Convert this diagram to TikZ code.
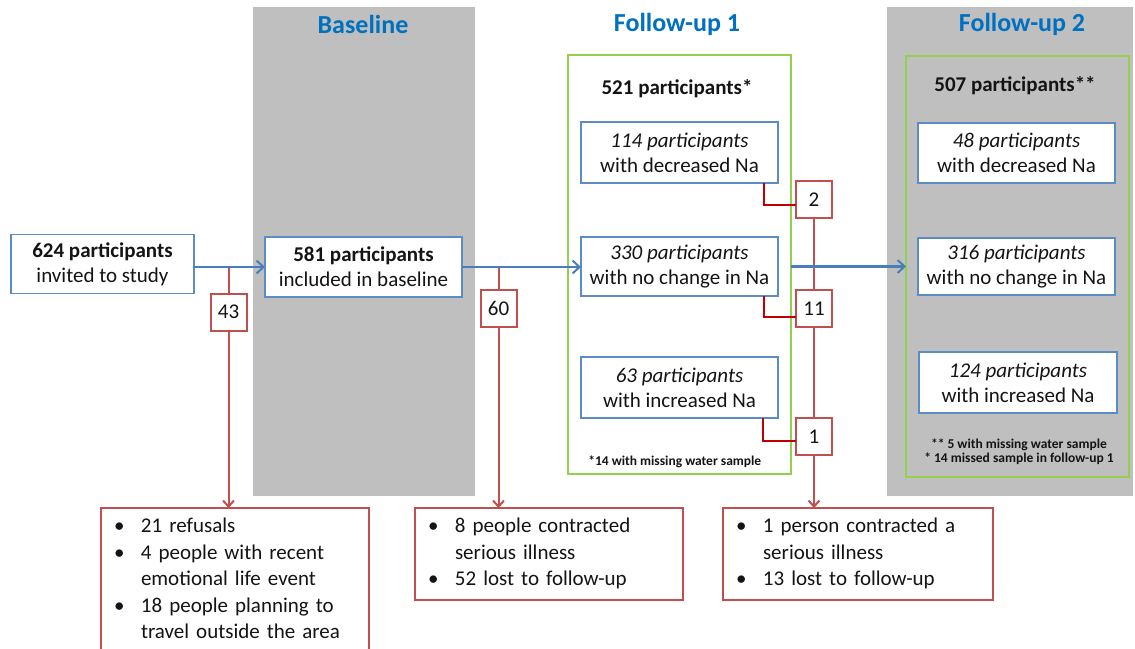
\documentclass[tikz,border=0pt]{standalone}
\usepackage{fontspec}
\setmainfont{Carlito}
\usetikzlibrary{arrows.meta,calc}
\definecolor{bxblue}{RGB}{91,140,200}
\definecolor{arblue}{RGB}{74,126,187}
\definecolor{rdbox}{RGB}{192,80,77}
\definecolor{rdL}{RGB}{192,0,0}
\definecolor{grn}{RGB}{146,208,80}
\definecolor{bggray}{RGB}{191,191,191}
\definecolor{hdblue}{RGB}{0,112,192}
\definecolor{txt}{RGB}{20,20,20}
\begin{document}
\begin{tikzpicture}[x=1pt,y=-1pt,
  every node/.style={text=txt, outer sep=0pt},
  bluebox/.style={draw=bxblue, line width=1.5pt, fill=white, inner sep=0pt, align=center, font=\fontsize{21}{25}\selectfont},
  redbox/.style={draw=rdbox, line width=2pt, fill=white, inner sep=0pt, minimum width=36pt, minimum height=37pt, font=\fontsize{21}{25}\selectfont},
  listbox/.style={draw=rdbox, line width=2pt, fill=white, anchor=north west, inner xsep=13pt, inner ysep=6pt, align=left, font=\fontsize{21}{26.5}\selectfont},
  greenbox/.style={draw=grn, line width=2pt, inner sep=0pt},
  header/.style={font=\fontsize{26}{30}\selectfont\bfseries, text=hdblue},
  title/.style={font=\fontsize{21}{25}\selectfont\bfseries},
  note/.style={font=\fontsize{13.5}{14}\selectfont\bfseries, align=center},
  bluearrow/.style={draw=arblue, line width=2.2pt, -{Straight Barb[length=7pt,width=13pt,line width=2pt]}},
  redline/.style={draw=rdbox, line width=2pt},
  redarrow/.style={redline, -{Straight Barb[length=6pt,width=11pt,line width=2pt]}},
  elbow/.style={draw=rdL, line width=2.2pt},
]
\useasboundingbox (0,0) rectangle (1135,648);
% grey columns
\fill[bggray] (253,7) rectangle (475,496);
\fill[bggray] (887,7) rectangle (1133,496);
% headers
\node[header] (hb) at (363,24) {Baseline};
\node[header] (hf1) at (677,24) {Follow-up 1};
\node[header] (hf2) at (1022,24) {Follow-up 2};
% green frames
\node[greenbox, fill=white, minimum width=223pt, minimum height=419pt] (fu1) at (679.5,264.5) {};
\node[greenbox, minimum width=223pt, minimum height=421pt] (fu2) at (1017.5,266.5) {};
\node[title] (t521) at (677,89) {521 participants*};
\node[title] (t507) at (1015,86) {507 participants**};
% blue boxes
\node[bluebox, minimum width=183pt, minimum height=59pt] (inv) at (102.5,264) {\textbf{624 participants}\\invited to study};
\node[bluebox, minimum width=197pt, minimum height=60pt] (base) at (363.5,267) {\textbf{581 participants}\\included in baseline};
\node[bluebox, minimum width=197pt, minimum height=61pt] (d1) at (679.5,152.5) {\textit{114 participants}\\with decreased Na};
\node[bluebox, minimum width=197pt, minimum height=59pt] (c1) at (679.5,266.5) {\textit{330 participants}\\with no change in Na};
\node[bluebox, minimum width=197pt, minimum height=61pt] (i1) at (679.5,387.5) {\textit{63 participants}\\with increased Na};
\node[bluebox, minimum width=197pt, minimum height=60pt] (d2) at (1016.5,153) {\textit{48 participants}\\with decreased Na};
\node[bluebox, minimum width=197pt, minimum height=57pt] (c2) at (1016.5,266.5) {\textit{316 participants}\\with no change in Na};
\node[bluebox, minimum width=198pt, minimum height=61pt] (i2) at (1018,382.5) {\textit{124 participants}\\with increased Na};
% notes
\node[note, anchor=west] (nt1) at (585,462) {*14 with missing water sample};
\node[note] (nt2) at (1019,451.5) {** 5 with missing water sample\\* 14 missed sample in follow-up 1};
% red number boxes
\node[redbox] (r43) at (228.5,312) {43};
\node[redbox] (r60) at (498.5,308.5) {60};
\node[redbox] (r2) at (814,199.5) {2};
\node[redbox] (r11) at (814,308.5) {11};
\node[redbox] (r1) at (814,436.5) {1};
% exclusion lists
\node[listbox, text width=242pt] (la) at (101,508) {\noindent\begin{tabular}{@{}p{27pt}@{}l@{}}\textbullet & 21 refusals\\ \textbullet & 4 people with recent\\ & emotional life event\\ \textbullet & 18 people planning to\\ & travel outside the area\end{tabular}};
\node[listbox, text width=242pt] (lb) at (415,508) {\noindent\begin{tabular}{@{}p{27pt}@{}l@{}}\textbullet & 8 people contracted\\ & serious illness\\ \textbullet & 52 lost to follow-up\end{tabular}};
\node[listbox, text width=244pt] (lc) at (723,508) {\noindent\begin{tabular}{@{}p{27pt}@{}l@{}}\textbullet & 1 person contracted a\\ & serious illness\\ \textbullet & 13 lost to follow-up\end{tabular}};
% red connectors
\draw[redline] (r43 |- base.west) -- (r43.north);
\draw[redarrow] (r43.south) -- (r43.south |- la.north);
\draw[redline] (r60 |- base.east) -- (r60.north);
\draw[redarrow] (r60.south) -- (r60.south |- lb.north);
\draw[redline] (r2.south) -- (r11.north);
\draw[redline] (r11.south) -- (r1.north);
\draw[redarrow] (r1.south) -- (r1.south |- lc.north);
% elbows
\draw[elbow] ([xshift=-14pt]d1.south east) |- ([yshift=-5.5pt]r2.west);
\draw[elbow] ([xshift=-14pt]c1.south east) |- ([yshift=-8.5pt]r11.west);
\draw[elbow] ([xshift=-15pt]i1.south east) |- ([yshift=-4.5pt]r1.west);
% blue arrows
\draw[bluearrow] (inv.east |- base.west) -- (base.west);
\draw[bluearrow] (base.east) -- (c1.west |- base.east);
\draw[bluearrow] (fu1.east |- c1.east) -- (fu2.west |- c1.east);
\end{tikzpicture}
\end{document}
